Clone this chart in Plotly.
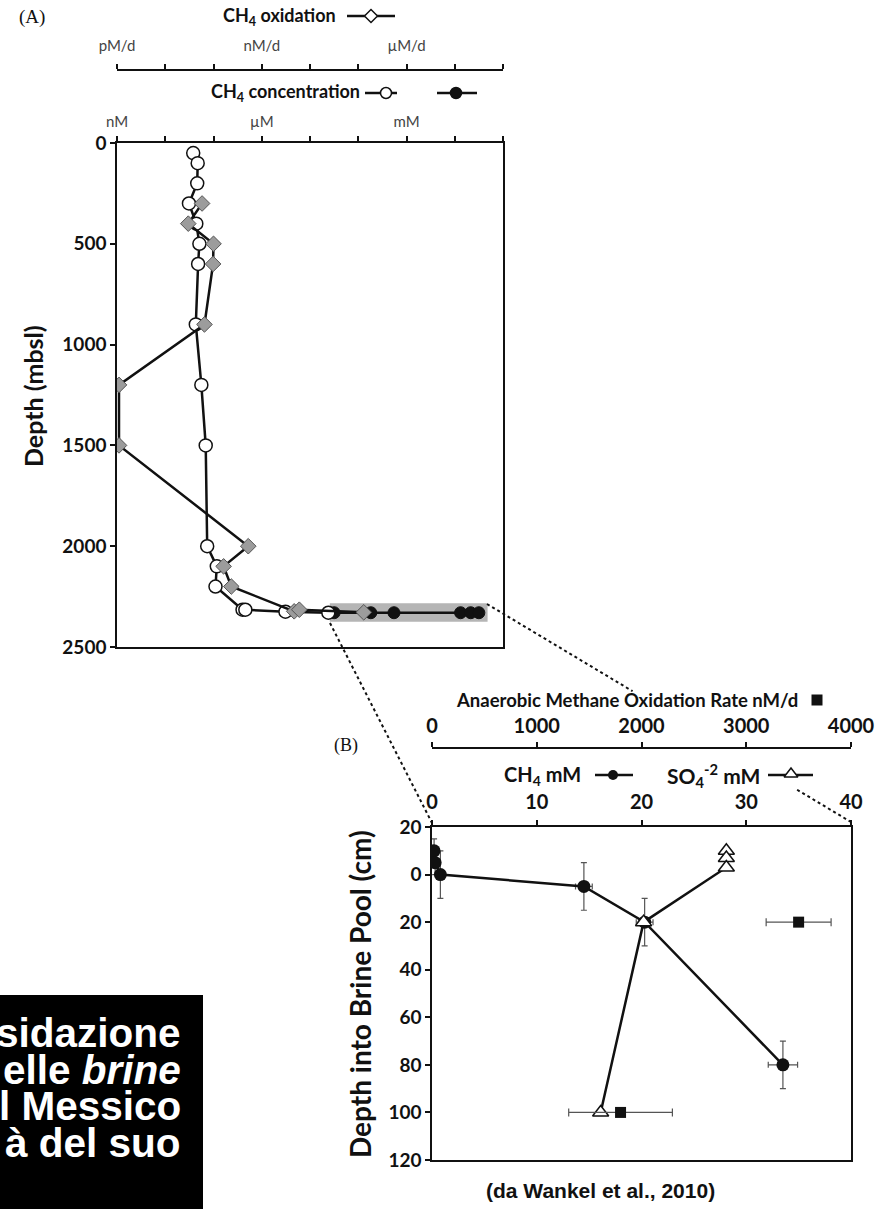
import plotly.graph_objects as go

W, H = 875, 1209

# ---- Panel A: water column, CH4 concentration (nM) and CH4 oxidation (pM/d) ----
conc_depth = [50, 100, 200, 300, 400, 500, 600, 900, 1200, 1500, 2000, 2100, 2200,
              2315, 2315, 2325, 2330]
conc_nM = [38, 47, 46, 31, 44, 51, 48, 43, 56, 69, 74, 117, 110,
           400, 457, 3100, 24000]
brine_depth = [2330, 2330, 2330, 2330, 2330, 2330]
brine_nM = [31600, 182000, 550000, 13200000, 21400000, 31600000]
ox_depth = [300, 400, 500, 600, 900, 1200, 1500, 2000, 2100, 2200, 2323, 2315, 2328]
ox_pMd = [58, 30, 100, 98, 65, 1.1, 1.1, 525, 162, 234, 4700, 6000, 130000]
box_nM = [25700, 47900000]
box_depth = [2283, 2375]
decades = [1, 10, 100, 1e3, 1e4, 1e5, 1e6, 1e7, 1e8]
conc_labels = ["nM", "", "", "µM", "", "", "mM", "", ""]
ox_labels = ["pM/d", "", "", "nM/d", "", "", "µM/d", "", ""]
depth_ticks_a = [0, 500, 1000, 1500, 2000, 2500]

# ---- Panel B: brine pool ----
ch4_depth = [-10, -5, 0, 5, 20, 80]
ch4_mM = [0.2, 0.3, 0.8, 14.5, 20.3, 33.5]
ch4_err_depth = [5, 5, 10, 10, 10, 10]
ch4_err_mM = [0.3, 0.3, 0.3, 0.8, 0.8, 1.4]
so4_depth = [-10, -7, -3, 20, 100]
so4_mM = [28.1, 28.1, 28.1, 20.2, 16.1]
aom_depth = [20, 100]
aom_nMd = [3500, 1800]
aom_err = [310, 495]
depth_ticks_b = [-20, 0, 20, 40, 60, 80, 100, 120]
mM_ticks = [0, 10, 20, 30, 40]
rate_ticks = [0, 1000, 2000, 3000, 4000]

FONT = "Lato"
BLACK = "#111111"


def px(x):
    return x / W


def py(y):
    return 1 - y / H


fig = go.Figure()

# gray box marking the brine samples
fig.add_trace(go.Scatter(
    x=[box_nM[0], box_nM[1], box_nM[1], box_nM[0], box_nM[0]],
    y=[box_depth[0], box_depth[0], box_depth[1], box_depth[1], box_depth[0]],
    fill="toself", fillcolor="#b5b5b5", line=dict(width=0), mode="lines",
    xaxis="x", yaxis="y", hoverinfo="skip"))

# concentration line (water column + brine)
fig.add_trace(go.Scatter(
    x=conc_nM + brine_nM, y=conc_depth + brine_depth, mode="lines",
    line=dict(color=BLACK, width=2.5), xaxis="x", yaxis="y"))
fig.add_trace(go.Scatter(
    x=brine_nM, y=brine_depth, mode="markers",
    marker=dict(symbol="circle", size=12, color=BLACK, line=dict(color=BLACK, width=1)),
    xaxis="x", yaxis="y"))
fig.add_trace(go.Scatter(
    x=conc_nM, y=conc_depth, mode="markers",
    marker=dict(symbol="circle", size=13, color="white", line=dict(color=BLACK, width=1.5)),
    xaxis="x", yaxis="y"))

# oxidation (overlaid log axis)
fig.add_trace(go.Scatter(
    x=ox_pMd, y=ox_depth, mode="lines+markers",
    line=dict(color=BLACK, width=2.5),
    marker=dict(symbol="diamond", size=12, color="#9c9c9c", line=dict(color="#555555", width=1)),
    xaxis="x2", yaxis="y"))

# panel B
fig.add_trace(go.Scatter(
    x=ch4_mM, y=ch4_depth, mode="lines+markers",
    line=dict(color=BLACK, width=2.5),
    marker=dict(symbol="circle", size=13, color=BLACK),
    error_y=dict(type="data", array=ch4_err_depth, color="#555555", thickness=1.2, width=3),
    error_x=dict(type="data", array=ch4_err_mM, color="#555555", thickness=1.2, width=3),
    xaxis="x3", yaxis="y2"))
fig.add_trace(go.Scatter(
    x=so4_mM, y=so4_depth, mode="lines+markers",
    line=dict(color=BLACK, width=2.5),
    marker=dict(symbol="triangle-up", size=14, color="white", line=dict(color=BLACK, width=1.5)),
    xaxis="x3", yaxis="y2"))
fig.add_trace(go.Scatter(
    x=aom_nMd, y=aom_depth, mode="markers",
    marker=dict(symbol="square", size=11, color=BLACK),
    error_x=dict(type="data", array=aom_err, color="#555555", thickness=1.2, width=4),
    xaxis="x4", yaxis="y2"))


# ---- pixel canvas for legend glyphs and dotted connectors ----
def glyph_line(x0, x1, y):
    fig.add_trace(go.Scatter(x=[x0, x1], y=[y, y], mode="lines",
                             line=dict(color=BLACK, width=2.5),
                             xaxis="x5", yaxis="y3"))


def glyph_marker(x, y, symbol, size, color, lw=1.5):
    fig.add_trace(go.Scatter(x=[x], y=[y], mode="markers",
                             marker=dict(symbol=symbol, size=size, color=color,
                                         line=dict(color=BLACK, width=lw)),
                             xaxis="x5", yaxis="y3"))


glyph_line(347, 395, 16)
glyph_marker(371, 16, "diamond", 10, "white")
glyph_line(365, 397, 93)
glyph_marker(386, 93, "circle", 11, "white")
glyph_line(437, 477, 93)
glyph_marker(456, 93, "circle", 11, BLACK)
glyph_marker(817, 700, "square", 11, BLACK, 0)
glyph_line(595, 633, 775)
glyph_marker(613, 775, "circle", 10, BLACK, 0)
glyph_line(768, 813, 775)
glyph_marker(791, 774, "triangle-up", 12, "white")

# dotted connectors from the brine box to panel B
p0, p1 = (487, 604), (851, 822)


def lerp(t):
    return p0[0] + t * (p1[0] - p0[0]), p0[1] + t * (p1[1] - p0[1])


for t0, t1 in [(0, 0.40), (0.852, 1)]:
    a, b = lerp(t0), lerp(t1)
    fig.add_trace(go.Scatter(x=[a[0], b[0]], y=[a[1], b[1]], mode="lines",
                             line=dict(color=BLACK, width=2, dash="dot"),
                             xaxis="x5", yaxis="y3"))
fig.add_trace(go.Scatter(x=[330, 432], y=[623, 823], mode="lines",
                         line=dict(color=BLACK, width=2, dash="dot"),
                         xaxis="x5", yaxis="y3"))

axis_common = dict(showline=True, linecolor=BLACK, linewidth=1.5, showgrid=False,
                   zeroline=False, ticks="outside", ticklen=5, tickwidth=1.5,
                   tickcolor=BLACK, automargin=False)

domA_x = [px(117), px(503)]
domB_x = [px(432), px(851)]

fig.update_layout(
    template="none",
    width=W, height=H, margin=dict(l=0, r=0, t=0, b=0, pad=0),
    paper_bgcolor="white", plot_bgcolor="rgba(0,0,0,0)", showlegend=False,
    font=dict(family=FONT, color=BLACK),
    xaxis=dict(**axis_common, type="log", range=[0, 8], domain=domA_x, anchor="y",
               side="top", mirror=True, tickvals=decades, ticktext=conc_labels,
               tickfont=dict(size=15, color="#444"), ticklabelstandoff=3),
    xaxis2=dict(**axis_common, type="log", range=[0, 8], overlaying="x", anchor="free",
                position=py(70), side="top", tickvals=decades, ticktext=ox_labels,
                tickfont=dict(size=15, color="#444"), ticklabelstandoff=7),
    yaxis=dict(**axis_common, range=[2500, 0], domain=[py(647), py(143)], anchor="x",
               mirror=True, tickvals=depth_ticks_a,
               tickfont=dict(size=19, weight="bold")),
    xaxis3=dict(**axis_common, range=[0, 40], domain=domB_x, anchor="y2", side="top",
                mirror=True, tickvals=mM_ticks,
                tickfont=dict(size=20, weight="bold"), ticklabelstandoff=3),
    xaxis4=dict(**axis_common, range=[0, 4000], overlaying="x3", anchor="free",
                position=py(748), side="top", tickvals=rate_ticks,
                tickfont=dict(size=20, weight="bold"), ticklabelstandoff=1),
    yaxis2=dict(**axis_common, range=[120, -20], domain=[py(1160), py(827)], anchor="x3",
                mirror=True, tickvals=depth_ticks_b,
                ticktext=[str(abs(v)) for v in depth_ticks_b],
                tickfont=dict(size=19, weight="bold")),
    xaxis5=dict(range=[0, W], domain=[0, 1], anchor="y3", visible=False, automargin=False),
    yaxis3=dict(range=[H, 0], domain=[0, 1], anchor="x5", visible=False, automargin=False),
)

# black caption box bottom-left
fig.add_shape(type="rect", xref="paper", yref="paper", x0=0, x1=px(203),
              y0=0, y1=py(995), fillcolor="black", line=dict(width=0), layer="below")

annotations = [
    dict(x=px(32), y=py(17), text="(A)", font=dict(family="Liberation Serif", size=19)),
    dict(x=px(346), y=py(745), text="(B)", font=dict(family="Liberation Serif", size=18)),
    dict(x=px(338), y=py(16), text="CH<sub>4</sub> oxidation", xanchor="right",
         font=dict(size=18, weight="bold")),
    dict(x=px(362), y=py(93), text="CH<sub>4</sub> concentration", xanchor="right",
         font=dict(size=18, weight="bold")),
    dict(x=px(33), y=py(396), text="Depth (mbsl)", textangle=-90,
         font=dict(size=25, weight="bold")),
    dict(x=px(360), y=py(994), text="Depth into Brine Pool (cm)", textangle=-90,
         font=dict(size=28, weight="bold")),
    dict(x=px(800), y=py(700), text="Anaerobic Methane Oxidation Rate nM/d", xanchor="right",
         font=dict(size=18.5, weight="bold")),
    dict(x=px(583), y=py(775), text="CH<sub>4</sub> mM", xanchor="right",
         font=dict(size=20, weight="bold")),
    dict(x=px(762), y=py(775), text="SO<sub>4</sub><sup>-2</sup> mM", xanchor="right",
         font=dict(size=21, weight="bold")),
    dict(x=px(600), y=py(1190), text="(da Wankel et al., 2010)",
         font=dict(family="Liberation Sans", size=21, weight="bold")),
]
for i, line in enumerate(["sidazione", "elle <i>brine</i>", "l Messico", "à del suo"]):
    annotations.append(dict(x=px(183), y=py(1033 + i * 36.7), text=line, xanchor="right",
                            font=dict(family="Liberation Sans", size=40.5, weight="bold",
                                      color="white")))
for a in annotations:
    a.setdefault("xref", "paper")
    a.setdefault("yref", "paper")
    a.setdefault("showarrow", False)
    a.setdefault("xanchor", "center")
    a.setdefault("yanchor", "middle")
fig.update_layout(annotations=annotations)

fig.write_html("out.html", config={"displayModeBar": False},
               post_script="document.body.style.margin='0';"
                           "document.body.style.overflow='hidden';")
